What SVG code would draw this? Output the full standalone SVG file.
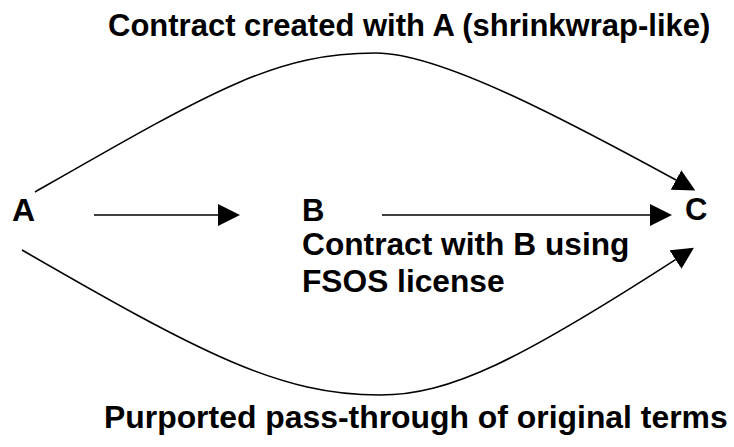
<svg xmlns="http://www.w3.org/2000/svg" width="734" height="447" viewBox="0 0 734 447">
<defs>
<style>
text{font-family:"Liberation Sans",Arial,sans-serif;font-weight:bold;fill:#000;}
.c{fill:none;stroke:#000;stroke-width:1.6;}
</style>
<marker id="ah" markerUnits="userSpaceOnUse" markerWidth="22" markerHeight="22" viewBox="0 0 20 20" refX="0" refY="10" orient="auto">
<path d="M0,0 L20,10 L0,20 Z" fill="#000"/>
</marker>
</defs>
<rect width="734" height="447" fill="#fff"/>
<g id="connectors">
<path class="c" d="M35,192 C215,89 276,53 376,53 C440,53 566,120 676,180" marker-end="url(#ah)"/>
<path class="c" d="M94,215 L218,215" marker-end="url(#ah)"/>
<path class="c" d="M382,215 L650,215" marker-end="url(#ah)"/>
<path class="c" d="M22,250 C202,354 280,395 380,395 C450,395 520,360 675.5,259.6" marker-end="url(#ah)"/>
</g>
<g id="node-A"><text x="12" y="221" font-size="32">A</text></g>
<g id="node-B"><text x="302" y="221" font-size="31">B</text></g>
<g id="node-C"><text x="685" y="220" font-size="31">C</text></g>
<g id="label-top"><text x="108" y="36" font-size="31">Contract created with A (shrinkwrap-like)</text></g>
<g id="label-mid"><text x="302" y="255" font-size="31.7">Contract with B using</text><text x="302" y="292" font-size="31.7">FSOS license</text></g>
<g id="label-bottom"><text x="104" y="428" font-size="31.9">Purported pass-through of original terms</text></g>
</svg>
